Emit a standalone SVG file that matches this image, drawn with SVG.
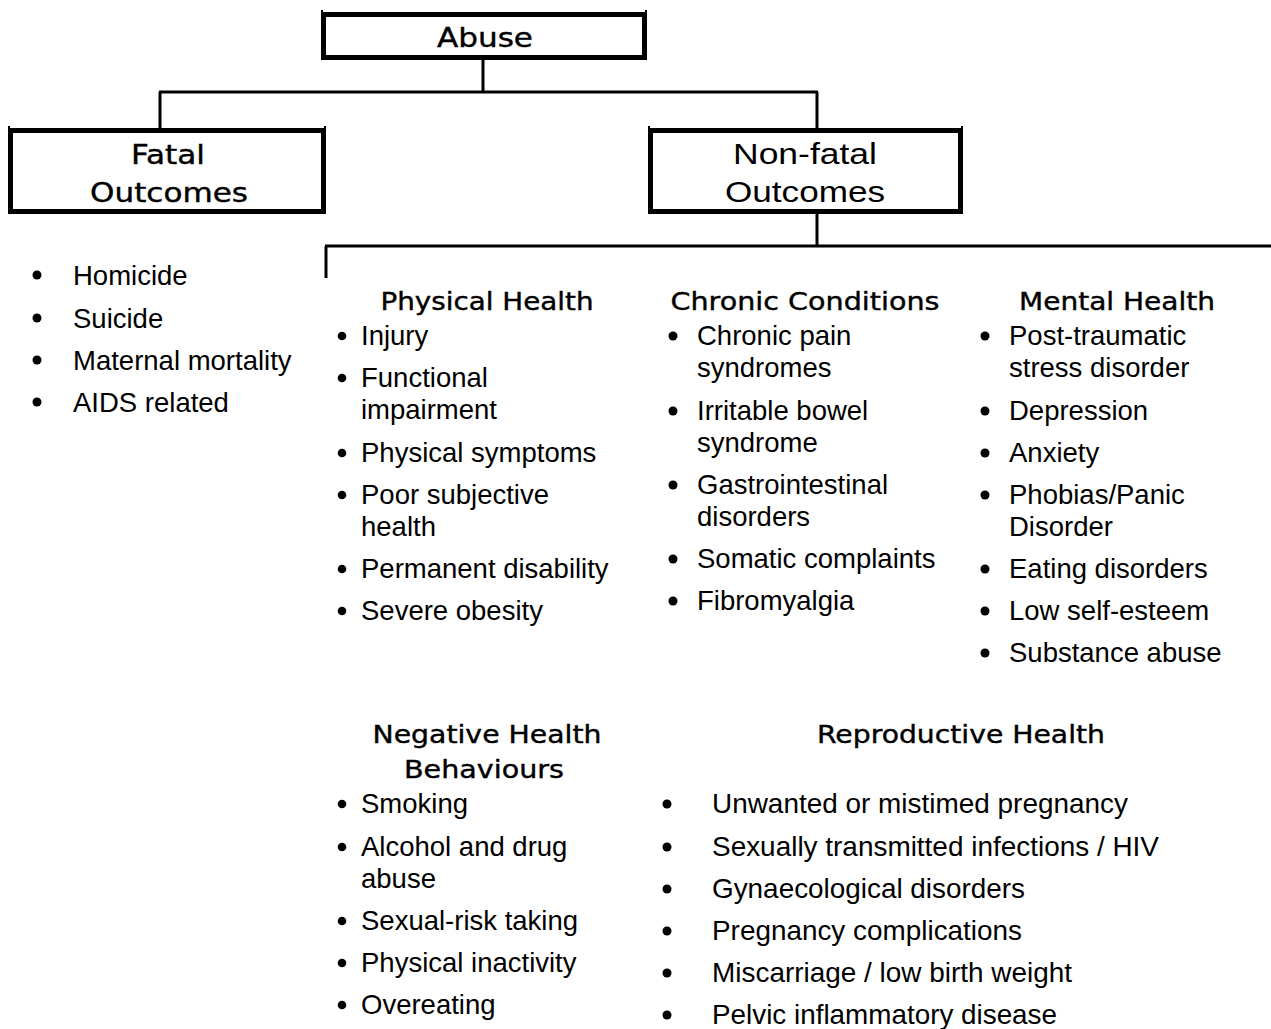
<svg xmlns="http://www.w3.org/2000/svg" width="1271" height="1029" viewBox="0 0 1271 1029">
<style>
.box{fill:#fff;stroke:#000;stroke-width:5}
.tick{stroke:#000;stroke-width:2}
.con{stroke:#000;stroke-width:3;fill:none}
.hd{font-family:"DejaVu Sans",sans-serif;font-size:25px;fill:#000;stroke:#000;stroke-width:0.4;text-anchor:middle}
.bx{font-family:"DejaVu Sans",sans-serif;font-size:27px;fill:#000;stroke:#000;stroke-width:0.4;text-anchor:middle}
.bxa{font-family:"Liberation Sans",Arial,sans-serif;font-size:30px;fill:#000;text-anchor:middle}
.it{font-family:"Liberation Sans",Arial,sans-serif;font-size:27.5px;fill:#000}
.b{fill:#000}
</style>
<rect width="1271" height="1029" fill="#fff"/>
<g id="connectors">
<path class="con" d="M483 60V92M159 92H818M160 92V128M817 92V128M817 214V246M325 246H1271M326 246V278"/>
</g>
<g id="abuse">
<rect class="box" x="323.5" y="14.5" width="321" height="43"/>
<line class="tick" x1="322" y1="10" x2="322" y2="14"/><line class="tick" x1="646" y1="10" x2="646" y2="14"/>
<text class="bx" x="485" y="47" textLength="96" lengthAdjust="spacingAndGlyphs">Abuse</text>
</g>
<g id="fatal">
<rect class="box" x="10.5" y="130.5" width="313" height="81"/>
<line class="tick" x1="9" y1="126" x2="9" y2="130"/><line class="tick" x1="325" y1="126" x2="325" y2="130"/>
<text class="bx" x="168" y="164" textLength="74" lengthAdjust="spacingAndGlyphs">Fatal</text>
<text class="bx" x="169" y="202" textLength="158" lengthAdjust="spacingAndGlyphs">Outcomes</text>
</g>
<g id="nonfatal">
<rect class="box" x="650.5" y="130.5" width="310" height="81"/>
<line class="tick" x1="649" y1="126" x2="649" y2="130"/><line class="tick" x1="962" y1="126" x2="962" y2="130"/>
<text class="bxa" x="805" y="164" textLength="144" lengthAdjust="spacingAndGlyphs">Non-fatal</text>
<text class="bxa" x="805" y="202" textLength="160" lengthAdjust="spacingAndGlyphs">Outcomes</text>
</g>
<g id="fatal-list">
<circle class="b" cx="37" cy="275" r="4.5"/><text class="it" x="73" y="285">Homicide</text>
<circle class="b" cx="37" cy="318" r="4.5"/><text class="it" x="73" y="328">Suicide</text>
<circle class="b" cx="37" cy="360" r="4.5"/><text class="it" x="73" y="370">Maternal mortality</text>
<circle class="b" cx="37" cy="402" r="4.5"/><text class="it" x="73" y="412">AIDS related</text>
</g>
<g id="physical-health">
<text class="hd" x="487" y="310" textLength="213" lengthAdjust="spacingAndGlyphs">Physical Health</text>
<circle class="b" cx="342" cy="336" r="4.3"/><text class="it" x="361" y="345">Injury</text>
<circle class="b" cx="342" cy="378" r="4.3"/><text class="it" x="361" y="387">Functional</text>
<text class="it" x="361" y="419">impairment</text>
<circle class="b" cx="342" cy="453" r="4.3"/><text class="it" x="361" y="462">Physical symptoms</text>
<circle class="b" cx="342" cy="495" r="4.3"/><text class="it" x="361" y="504">Poor subjective</text>
<text class="it" x="361" y="536">health</text>
<circle class="b" cx="342" cy="569" r="4.3"/><text class="it" x="361" y="578">Permanent disability</text>
<circle class="b" cx="342" cy="611" r="4.3"/><text class="it" x="361" y="620">Severe obesity</text>
</g>
<g id="chronic-conditions">
<text class="hd" x="805" y="310" textLength="269" lengthAdjust="spacingAndGlyphs">Chronic Conditions</text>
<circle class="b" cx="673" cy="336" r="4.5"/><text class="it" x="697" y="345">Chronic pain</text>
<text class="it" x="697" y="377">syndromes</text>
<circle class="b" cx="673" cy="411" r="4.5"/><text class="it" x="697" y="420">Irritable bowel</text>
<text class="it" x="697" y="452">syndrome</text>
<circle class="b" cx="673" cy="485" r="4.5"/><text class="it" x="697" y="494">Gastrointestinal</text>
<text class="it" x="697" y="526">disorders</text>
<circle class="b" cx="673" cy="559" r="4.5"/><text class="it" x="697" y="568">Somatic complaints</text>
<circle class="b" cx="673" cy="601" r="4.5"/><text class="it" x="697" y="610">Fibromyalgia</text>
</g>
<g id="mental-health">
<text class="hd" x="1117" y="310" textLength="196" lengthAdjust="spacingAndGlyphs">Mental Health</text>
<circle class="b" cx="985" cy="336" r="4.5"/><text class="it" x="1009" y="345">Post-traumatic</text>
<text class="it" x="1009" y="377">stress disorder</text>
<circle class="b" cx="985" cy="411" r="4.5"/><text class="it" x="1009" y="420">Depression</text>
<circle class="b" cx="985" cy="453" r="4.5"/><text class="it" x="1009" y="462">Anxiety</text>
<circle class="b" cx="985" cy="495" r="4.5"/><text class="it" x="1009" y="504">Phobias/Panic</text>
<text class="it" x="1009" y="536">Disorder</text>
<circle class="b" cx="985" cy="569" r="4.5"/><text class="it" x="1009" y="578">Eating disorders</text>
<circle class="b" cx="985" cy="611" r="4.5"/><text class="it" x="1009" y="620">Low self-esteem</text>
<circle class="b" cx="985" cy="653" r="4.5"/><text class="it" x="1009" y="662">Substance abuse</text>
</g>
<g id="negative-health-behaviours">
<text class="hd" x="487" y="743" textLength="229" lengthAdjust="spacingAndGlyphs">Negative Health</text>
<text class="hd" x="484" y="778" textLength="160" lengthAdjust="spacingAndGlyphs">Behaviours</text>
<circle class="b" cx="342" cy="804" r="4.3"/><text class="it" x="361" y="813">Smoking</text>
<circle class="b" cx="342" cy="847" r="4.3"/><text class="it" x="361" y="856">Alcohol and drug</text>
<text class="it" x="361" y="888">abuse</text>
<circle class="b" cx="342" cy="921" r="4.3"/><text class="it" x="361" y="930">Sexual-risk taking</text>
<circle class="b" cx="342" cy="963" r="4.3"/><text class="it" x="361" y="972">Physical inactivity</text>
<circle class="b" cx="342" cy="1005" r="4.3"/><text class="it" x="361" y="1014">Overeating</text>
</g>
<g id="reproductive-health">
<text class="hd" x="961" y="743" textLength="288" lengthAdjust="spacingAndGlyphs">Reproductive Health</text>
<circle class="b" cx="667" cy="804" r="4.5"/><text class="it" x="712" y="813" textLength="416" lengthAdjust="spacingAndGlyphs">Unwanted or mistimed pregnancy</text>
<circle class="b" cx="667" cy="847" r="4.5"/><text class="it" x="712" y="856" textLength="447" lengthAdjust="spacingAndGlyphs">Sexually transmitted infections / HIV</text>
<circle class="b" cx="667" cy="889" r="4.5"/><text class="it" x="712" y="898" textLength="313" lengthAdjust="spacingAndGlyphs">Gynaecological disorders</text>
<circle class="b" cx="667" cy="931" r="4.5"/><text class="it" x="712" y="940" textLength="310" lengthAdjust="spacingAndGlyphs">Pregnancy complications</text>
<circle class="b" cx="667" cy="973" r="4.5"/><text class="it" x="712" y="982" textLength="360" lengthAdjust="spacingAndGlyphs">Miscarriage / low birth weight</text>
<circle class="b" cx="667" cy="1015" r="4.5"/><text class="it" x="712" y="1024" textLength="345" lengthAdjust="spacingAndGlyphs">Pelvic inflammatory disease</text>
</g>
</svg>
